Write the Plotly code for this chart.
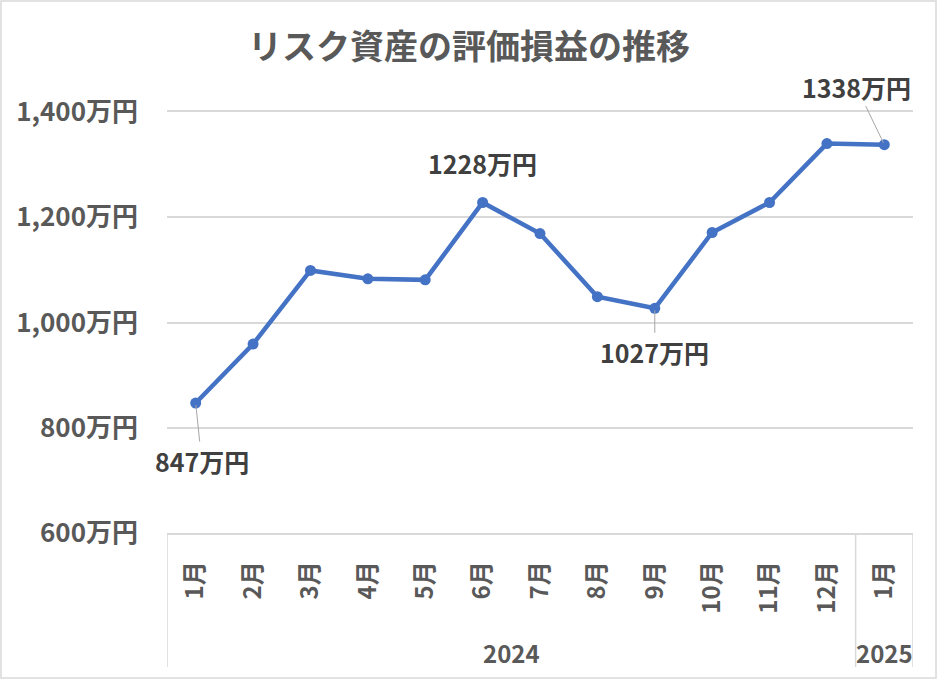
import plotly.graph_objects as go

# ---- data ----
months = ["1月", "2月", "3月", "4月", "5月", "6月", "7月", "8月", "9月", "10月", "11月", "12月", "1月"]
years = ["2024"] * 12 + ["2025"]
values = [847, 959, 1099, 1083, 1081, 1228, 1169, 1049, 1027, 1171, 1228, 1340, 1338]
labeled_points = {0: "847万円", 5: "1228万円", 8: "1027万円", 12: "1338万円"}
y_ticks = [600, 800, 1000, 1200, 1400]
y_ticktext = ["600万円", "800万円", "1,000万円", "1,200万円", "1,400万円"]
title_text = "リスク資産の評価損益の推移"

# ---- layout geometry ----
W, H = 938, 680
L, R, T, B = 167, 25, 112, 147
PW, PH = W - L - R, H - T - B

def paper_x(px):
    return (px - L) / PW

def paper_y(py):
    return (H - B - py) / PH

FONT = "Noto Sans CJK JP"
GRAY = "#595959"
DARK = "#404040"
GRID = "#d9d9d9"
BLUE = "#4472C4"

x = list(range(len(values)))

fig = go.Figure()
fig.add_trace(go.Scatter(
    x=x, y=values, mode="lines+markers",
    line=dict(color=BLUE, width=4.5),
    marker=dict(color=BLUE, size=11),
    cliponaxis=False, hoverinfo="skip", showlegend=False,
))

annotations = []
# data labels with leader lines
offsets = {0: (6, 58, True), 5: (0, -40, False), 8: (0, 44, True), 12: (-28, -58, True)}
for i, txt in labeled_points.items():
    ax_, ay_, arrow = offsets[i]
    if arrow:
        annotations.append(dict(
            x=i, y=values[i], xref="x", yref="y", text=txt,
            showarrow=True, arrowhead=0, arrowwidth=1, arrowcolor="#a6a6a6",
            ax=ax_, ay=ay_, standoff=2,
            font=dict(family=FONT, size=25, color=DARK, weight="bold"),
        ))
    else:
        annotations.append(dict(
            x=i, y=values[i], xref="x", yref="y", text=txt,
            showarrow=False, xshift=ax_, yshift=-ay_,
            font=dict(family=FONT, size=25, color=DARK, weight="bold"),
        ))

# year group labels
groups = {}
for i, yv in enumerate(years):
    groups.setdefault(yv, []).append(i)
for yv, idx in groups.items():
    center = (min(idx) + max(idx)) / 2
    annotations.append(dict(
        x=center, y=paper_y(652), xref="x", yref="paper", text=yv,
        showarrow=False, yanchor="middle",
        font=dict(family=FONT, size=24, color=GRAY, weight="bold"),
    ))

shapes = []
# category box lines
bounds = [-0.5] + [max(idx) + 0.5 for idx in groups.values()]
for b in bounds:
    shapes.append(dict(type="line", xref="x", yref="paper", x0=b, x1=b,
                       y0=0, y1=paper_y(667), line=dict(color=GRID, width=1.5)))
# chart border
shapes.append(dict(type="rect", xref="paper", yref="paper",
                   x0=paper_x(1), x1=paper_x(936), y0=paper_y(678), y1=paper_y(1),
                   line=dict(color=GRID, width=1.5), fillcolor="rgba(0,0,0,0)", layer="below"))

fig.update_layout(
    width=W, height=H,
    margin=dict(l=L, r=R, t=T, b=B),
    paper_bgcolor="white", plot_bgcolor="white",
    title=dict(text=title_text, x=0.5, xanchor="center", y=1 - 47 / H, yanchor="middle",
               font=dict(family=FONT, size=34, color=GRAY, weight="bold")),
    xaxis=dict(
        range=[-0.5, len(values) - 0.5], tickmode="array", tickvals=x, ticktext=months,
        tickangle=-90, showgrid=False, zeroline=False,
        showline=True, mirror=True, linecolor=GRID, linewidth=1.5, ticks="",
        ticklabelstandoff=17,
        tickfont=dict(family=FONT, size=24, color=GRAY, weight="bold"),
    ),
    yaxis=dict(
        range=[600, 1400], tickmode="array", tickvals=y_ticks, ticktext=y_ticktext,
        showgrid=True, gridcolor=GRID, gridwidth=1.5, zeroline=False, showline=False,
        ticks="", ticklabelstandoff=28,
        tickfont=dict(family=FONT, size=26, color=GRAY, weight="bold"),
    ),
    annotations=annotations,
    shapes=shapes,
    showlegend=False,
)

fig.write_html("out.html")
